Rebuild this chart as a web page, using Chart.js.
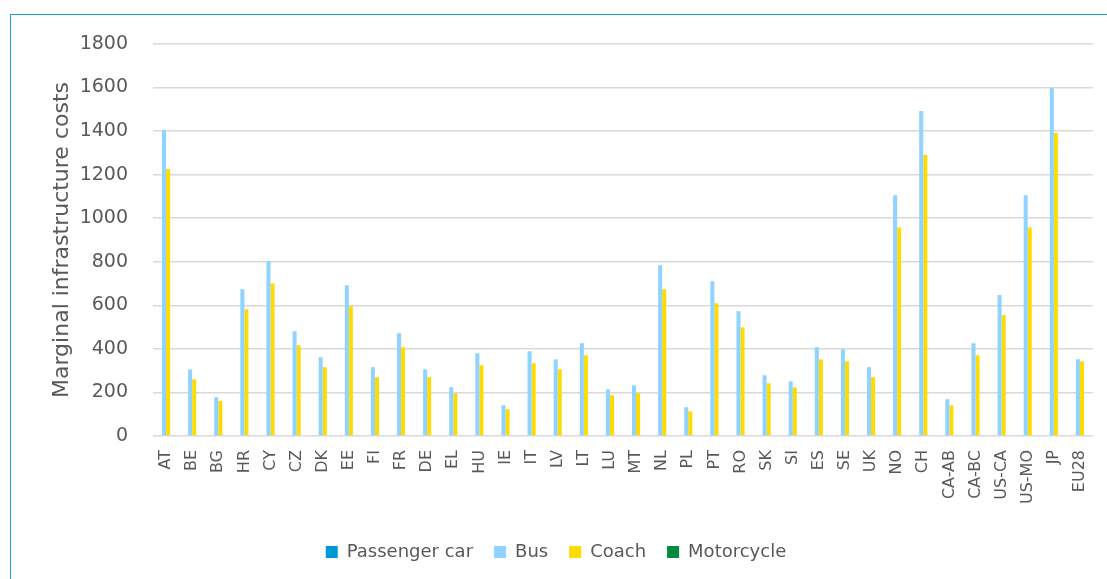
<!DOCTYPE html>
<html>
<head>
<meta charset="utf-8">
<script src="https://cdn.jsdelivr.net/npm/chart.js@4/dist/chart.umd.min.js"></script>
<style>
  html, body { margin: 0; padding: 0; background: #fff; }
  #frame {
    position: absolute; left: 10px; top: 14px;
    width: 1110px; height: 580px;
    border: 1px solid #1e9ee0;
  }
  #wrap { position: absolute; left: 0; top: 0; width: 1107px; height: 579px; }
</style>
</head>
<body>
<div id="frame"></div>
<div id="wrap"><canvas id="chart" width="1107" height="579"></canvas></div>
<script>
// categories (countries / regions)
const countries = ['AT', 'BE', 'BG', 'HR', 'CY', 'CZ', 'DK', 'EE', 'FI', 'FR', 'DE', 'EL',
  'HU', 'IE', 'IT', 'LV', 'LT', 'LU', 'MT', 'NL', 'PL', 'PT', 'RO', 'SK', 'SI', 'ES',
  'SE', 'UK', 'NO', 'CH', 'CA-AB', 'CA-BC', 'US-CA', 'US-MO', 'JP', 'EU28'];

// series values
const passengerCar = [0, 0, 0, 0, 0, 0, 0, 0, 0, 0, 0, 0,
  0, 0, 0, 0, 0, 0, 0, 0, 0, 0, 0, 0, 0, 0,
  0, 0, 0, 0, 0, 0, 0, 0, 0, 0];
const bus = [1406, 306, 178, 674, 801, 481, 362, 692, 316, 472, 306, 224,
  380, 141, 389, 352, 426, 214, 233, 784, 132, 711, 573, 279, 251, 408,
  398, 316, 1106, 1492, 169, 426, 647, 1106, 1598, 352];
const coach = [1226, 260, 161, 582, 700, 417, 316, 597, 270, 408, 270, 196,
  325, 123, 334, 306, 371, 187, 196, 674, 113, 610, 499, 242, 224, 352,
  343, 270, 957, 1290, 141, 371, 555, 957, 1391, 343];
const motorcycle = [0, 0, 0, 0, 0, 0, 0, 0, 0, 0, 0, 0,
  0, 0, 0, 0, 0, 0, 0, 0, 0, 0, 0, 0, 0, 0,
  0, 0, 0, 0, 0, 0, 0, 0, 0, 0];

const font = "'DejaVu Sans', sans-serif";
const textColor = '#595959';

const ctx = document.getElementById('chart').getContext('2d');
new Chart(ctx, {
  type: 'bar',
  data: {
    labels: countries,
    datasets: [
      { label: 'Passenger car', data: passengerCar, backgroundColor: '#0099d8' },
      { label: 'Bus', data: bus, backgroundColor: '#8fd3fe' },
      { label: 'Coach', data: coach, backgroundColor: '#ffdb00' },
      { label: 'Motorcycle', data: motorcycle, backgroundColor: '#008a3a' }
    ]
  },
  options: {
    responsive: false,
    animation: false,
    devicePixelRatio: 1,
    datasets: {
      bar: { categoryPercentage: 0.62, barPercentage: 1.0 }
    },
    layout: { padding: { left: 19, right: 14, top: 44, bottom: 8 } },
    plugins: {
      tooltip: { enabled: false },
      legend: {
        position: 'bottom',
        labels: {
          color: textColor,
          font: { family: font, size: 18 },
          boxWidth: 12,
          boxHeight: 12,
          padding: 21
        }
      }
    },
    scales: {
      x: {
        grid: { display: false },
        border: { display: false },
        ticks: {
          color: textColor,
          font: { family: font, size: 16 },
          minRotation: 90,
          maxRotation: 90,
          autoSkip: false,
          padding: 6
        },
        // fixed height so the plot bottom sits where the original has it
        afterFit: (scale) => { scale.height = 86; }
      },
      y: {
        min: 0,
        max: 1800,
        grid: { color: '#d9d9d9', lineWidth: 1.5, drawTicks: false },
        border: { display: false },
        ticks: {
          stepSize: 200,
          color: textColor,
          font: { family: font, size: 19 },
          padding: 25,
          callback: (v) => String(v)
        },
        title: {
          display: true,
          text: 'Marginal infrastructure costs',
          color: textColor,
          font: { family: font, size: 22 },
          padding: { top: 30, bottom: 4 }
        },
        afterFit: (scale) => { scale.width = 134; }
      }
    }
  }
});
</script>
</body>
</html>
